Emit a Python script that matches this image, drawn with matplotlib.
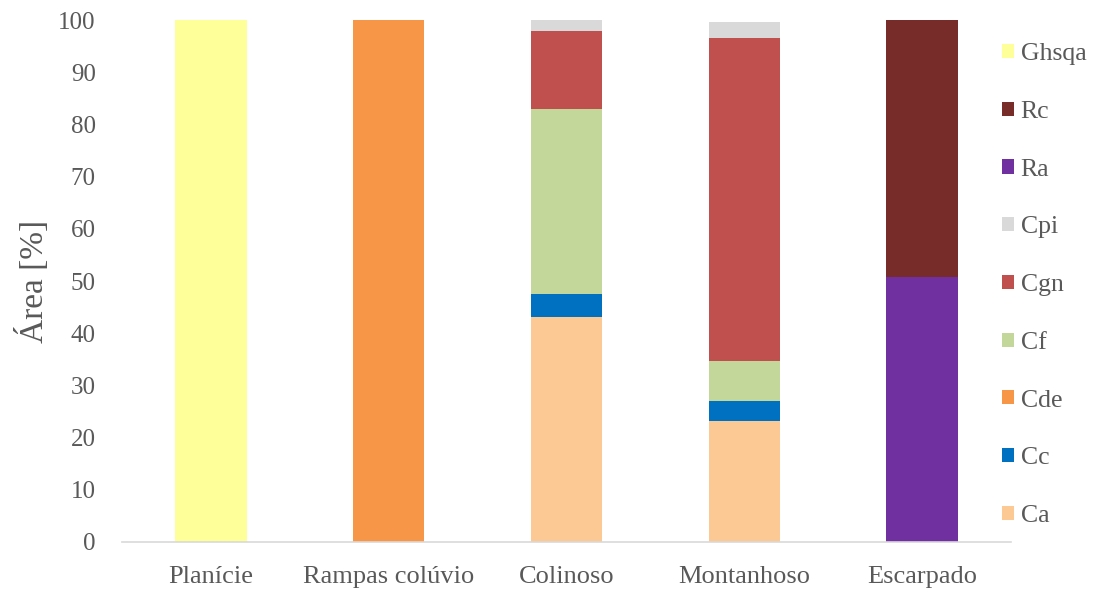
import matplotlib.pyplot as plt
import numpy as np

plt.rcParams['font.family'] = ['Liberation Serif', 'DejaVu Serif']

relevo = ['Planície', 'Rampas colúvio', 'Colinoso', 'Montanhoso', 'Escarpado']

# area share (%) of each soil unit per relief class, bottom to top of the stack
Ca = [0, 0, 43.1, 23.2, 0]
Cc = [0, 0, 4.4, 3.8, 0]
Cde = [0, 100, 0, 0, 0]
Cf = [0, 0, 35.4, 7.6, 0]
Cgn = [0, 0, 15.1, 62.0, 0]
Cpi = [0, 0, 2.0, 3.1, 0]
Ra = [0, 0, 0, 0, 50.8]
Rc = [0, 0, 0, 0, 49.2]
Ghsqa = [100, 0, 0, 0, 0]

series = [('Ca', Ca, '#fcc995'), ('Cc', Cc, '#0070c0'), ('Cde', Cde, '#f79646'),
          ('Cf', Cf, '#c4d79b'), ('Cgn', Cgn, '#c0504d'), ('Cpi', Cpi, '#d9d9d9'),
          ('Ra', Ra, '#7030a0'), ('Rc', Rc, '#772c2a'), ('Ghsqa', Ghsqa, '#ffff99')]

txt = '#595959'

fig = plt.figure(figsize=(11, 5.92), dpi=100)
ax = fig.add_axes([0.111, 0.0845, 0.808, 0.8815])

x = np.arange(len(relevo))
bottom = np.zeros(len(relevo))
handles = []
for name, vals, col in series:
    b = ax.bar(x, vals, width=0.4, bottom=bottom, color=col, label=name)
    handles.append(b)
    bottom += np.array(vals)

ax.set_ylim(0, 100)
ax.set_xlim(-0.5, len(relevo) - 0.5)
ax.set_yticks(range(0, 101, 10))
ax.set_xticks(x)
ax.set_xticklabels(relevo, fontsize=19)
ax.tick_params(axis='both', length=0, colors=txt)
ax.tick_params(axis='y', pad=19, labelsize=18)
ax.tick_params(axis='x', pad=17)
ax.set_ylabel('Área [%]', fontsize=24, color=txt, labelpad=6)

for s in ['top', 'right', 'left']:
    ax.spines[s].set_visible(False)
ax.spines['bottom'].set_color('#d9d9d9')
ax.spines['bottom'].set_linewidth(1.2)

leg = fig.legend(handles[::-1], [s[0] for s in series][::-1],
                 loc='upper left', bbox_to_anchor=(0.89, 0.966),
                 frameon=False, fontsize=18.5, labelspacing=1.39,
                 handlelength=0.47, handleheight=0.47, handletextpad=0.25)
for t in leg.get_texts():
    t.set_color(txt)

fig.savefig('out.png', dpi=100)
